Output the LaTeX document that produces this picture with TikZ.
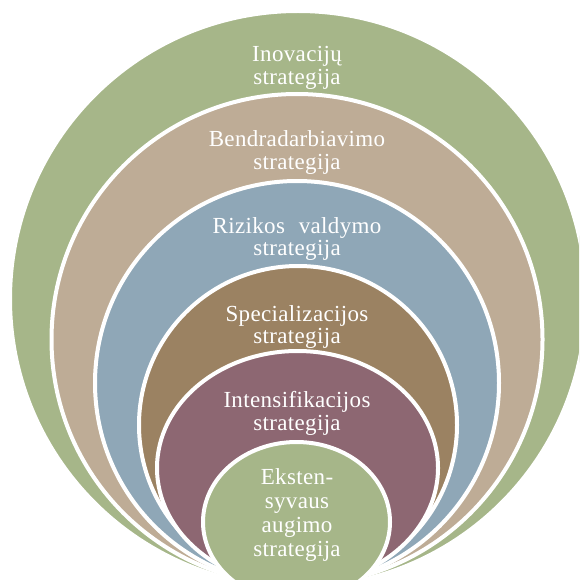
\documentclass[tikz,border=0pt]{standalone}
\usepackage{fontspec}
\setmainfont{Liberation Serif}[LetterSpace=1.5]
\definecolor{sage}{HTML}{A6B689}
\definecolor{sand}{HTML}{BEAC96}
\definecolor{slate}{HTML}{8FA7B7}
\definecolor{umber}{HTML}{9B8262}
\definecolor{plum}{HTML}{8D6772}
\begin{document}
\begin{tikzpicture}[x=1pt,y=-1pt,
  ring/.style={draw=white,line width=4pt},
  lbl/.style={text=white,align=center,inner sep=0pt,
    font=\fontsize{23}{22.5}\selectfont},
  lblwide/.style={lbl,font=\fontsize{23}{24}\selectfont}]
\useasboundingbox (0,0) rectangle (579,580);
\clip (0,0) rectangle (579,580);

% nested strategy levels, all resting on a common bottom
\filldraw[fill=sage,ring]  (298,299)   circle [radius=288];
\filldraw[fill=sand,ring]  (297,339.5) circle [radius=245.5];
\filldraw[fill=slate,ring] (297,383)   circle [radius=202];
\filldraw[fill=umber,ring] (298,425)   circle [radius=159];
\filldraw[fill=plum,ring]  (297.5,468) ellipse [x radius=140.5, y radius=117];
\filldraw[fill=sage,ring]  (296.5,522) ellipse [x radius=93.5, y radius=80];

% labels
\node[lbl] (inov) at (297,68) {Inovacijų\\strategija};
\node[lbl] (bendr) at (297,152.5) {Bendradarbiavimo\\strategija};
\node[lbl] (rizik) at (297,239) {Rizikos\hspace{0.6em}valdymo\\strategija};
\node[lbl] (spec) at (297,327) {Specializacijos\\strategija};
\node[lbl] (inten) at (297,413.5) {Intensifikacijos\\strategija};
\node[lblwide] (ekst) at (297,515) {Eksten-\\syvaus\\augimo\\strategija};
\end{tikzpicture}
\end{document}
